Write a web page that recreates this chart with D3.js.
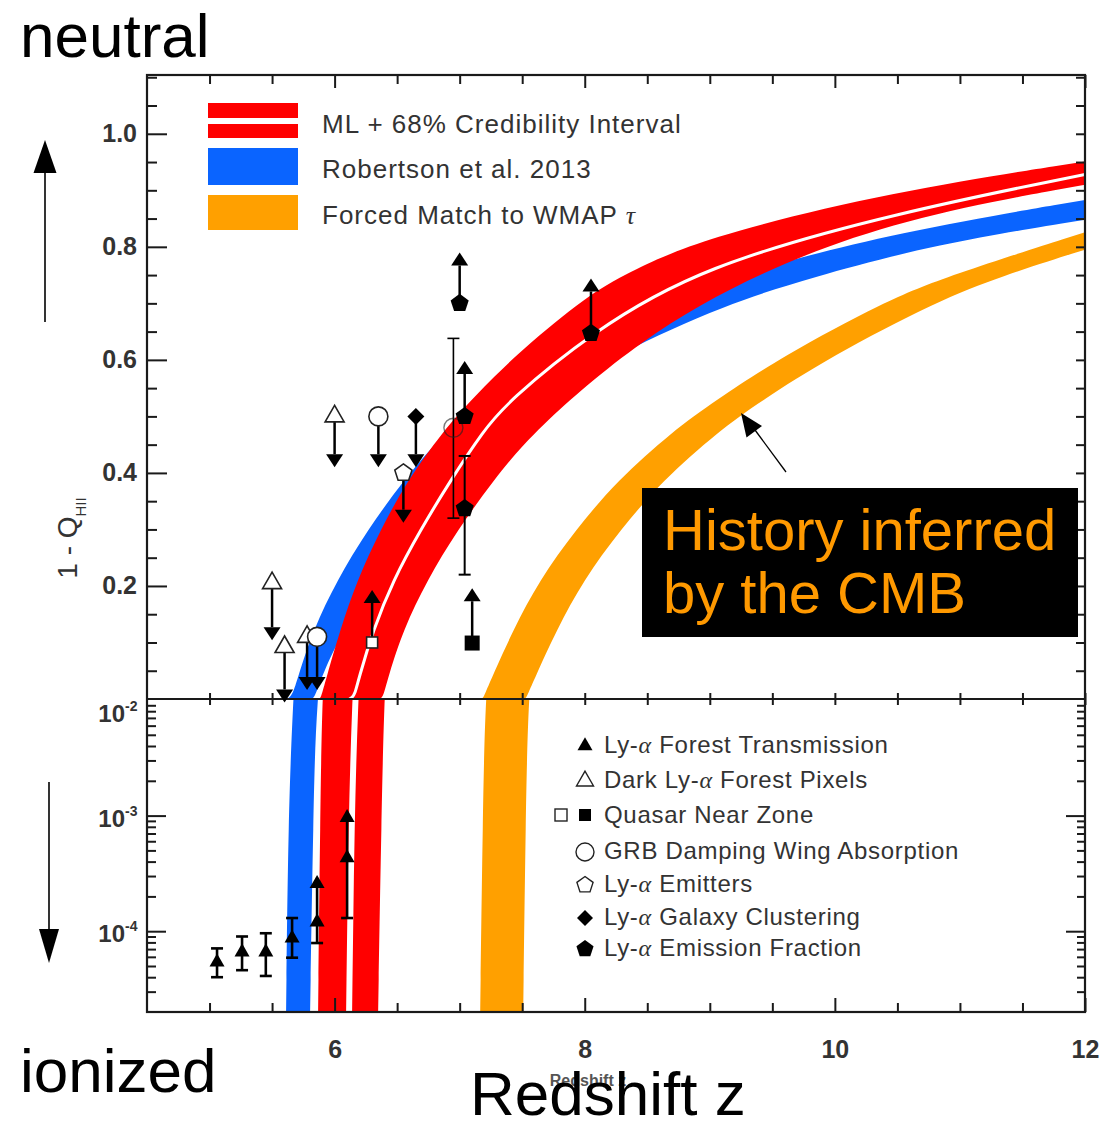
<!DOCTYPE html>
<html>
<head>
<meta charset="utf-8">
<script src="https://cdn.jsdelivr.net/npm/d3@7"></script>
<style>
  body { margin: 0; background: #fff; }
  svg { display: block; }
</style>
</head>
<body>
<svg id="chart" width="1101" height="1121"></svg>
<script>
// ---------- axis ticks ----------
const zMajorTicks = [6, 8, 10, 12];
const zMinorTicks = [5, 5.5, 6.5, 7, 7.5, 8.5, 9, 9.5, 10.5, 11, 11.5];
const zTickLabels = ["6", "8", "10", "12"];
const linMajorTicks = [0.2, 0.4, 0.6, 0.8, 1.0];
const linTickLabels = ["0.2", "0.4", "0.6", "0.8", "1.0"];
const linMinorTicks = [0.05, 0.1, 0.15, 0.25, 0.3, 0.35, 0.45, 0.5, 0.55, 0.65, 0.7, 0.75, 0.85, 0.9, 0.95, 1.05, 1.1];
const logMajorTicks = [1e-4, 1e-3, 1e-2];
const logTickExponents = ["-4", "-3", "-2"];
const logMinorTicks = [3e-5, 4e-5, 5e-5, 6e-5, 7e-5, 8e-5, 9e-5,
                       2e-4, 3e-4, 4e-4, 5e-4, 6e-4, 7e-4, 8e-4, 9e-4,
                       2e-3, 3e-3, 4e-3, 5e-3, 6e-3, 7e-3, 8e-3, 9e-3];

// ---------- model bands: [redshift, 1 - Q_HII] along each edge ----------
const mlUpper = [[5.868, 2e-5], [5.885, 1e-3], [5.90, 0.01], [5.93, 0.034], [6.044, 0.122],
  [6.18, 0.21], [6.364, 0.298], [6.58, 0.386], [6.868, 0.474], [7.084, 0.527], [7.428, 0.605],
  [7.964, 0.704], [8.284, 0.748], [8.924, 0.815], [10.46, 0.898], [12, 0.951]];
const mlLine = [[6.116, 2e-5], [6.135, 1e-3], [6.165, 0.01], [6.19, 0.034], [6.308, 0.122],
  [6.468, 0.21], [6.684, 0.298], [6.924, 0.386], [7.188, 0.474], [7.38, 0.525], [8.05, 0.648],
  [8.924, 0.765], [10.524, 0.862], [12, 0.928]];
const mlLower = [[6.348, 2e-5], [6.375, 1e-3], [6.396, 0.01], [6.43, 0.04], [6.548, 0.122],
  [6.74, 0.21], [6.98, 0.298], [7.268, 0.386], [7.588, 0.474], [8.444, 0.638], [9.40, 0.757],
  [10.524, 0.85], [12, 0.91]];

const robUpper = [[5.612, 2e-5], [5.63, 1e-3], [5.668, 0.01], [5.70, 0.034], [5.828, 0.122],
  [6.02, 0.21], [6.26, 0.298], [6.548, 0.386], [6.884, 0.474], [7.3, 0.55], [7.9, 0.635],
  [8.6, 0.705], [9.3, 0.757], [10.5, 0.826], [12, 0.883]];
const robLower = [[5.804, 2e-5], [5.83, 1e-3], [5.852, 0.01], [5.95, 0.07], [6.15, 0.15],
  [6.5, 0.27], [7.0, 0.40], [7.6, 0.52], [8.26, 0.612], [9.13, 0.698], [9.8, 0.745],
  [10.81, 0.805], [12, 0.848]];

const wmapUpper = [[7.164, 2e-5], [7.185, 1e-3], [7.204, 0.01], [7.25, 0.034], [7.427, 0.122],
  [7.638, 0.21], [7.923, 0.298], [8.258, 0.386], [8.704, 0.474], [9.039, 0.527], [9.572, 0.605],
  [10.404, 0.704], [10.899, 0.748], [12, 0.826]];
const wmapLower = [[7.508, 2e-5], [7.528, 1e-3], [7.548, 0.01], [7.595, 0.034], [7.775, 0.122],
  [7.99, 0.21], [8.28, 0.298], [8.62, 0.386], [9.07, 0.474], [9.41, 0.527], [9.96, 0.605],
  [10.82, 0.704], [11.33, 0.748], [12, 0.795]];

// ---------- observational constraints ----------
// Ly-alpha forest transmission (log panel)
const forestZ   = [5.06, 5.26, 5.45, 5.66, 5.86, 6.10];
const forestVal = [5.4e-5, 6.6e-5, 6.6e-5, 8.7e-5, 1.2e-4, 4.3e-4];
const forestLo  = [4.0e-5, 4.6e-5, 4.1e-5, 5.9e-5, 7.9e-5, 1.3e-4];
const forestHi  = [7.1e-5, 9.0e-5, 9.6e-5, 1.3e-4, 2.9e-4, 1.08e-3];
const forestHiIsLimit = [false, false, false, false, true, true];

// Dark Ly-alpha forest pixels (upper limits)
const darkZ = [5.5, 5.6, 5.78, 6.0];
const darkVal = [0.205, 0.092, 0.11, 0.50];
const darkEnd = [0.104, -0.006, 0.016, 0.41];

// Quasar near zones (lower limits): open and filled
const qsoOpenZ = [6.3], qsoOpenVal = [0.10], qsoOpenEnd = [0.193];
const qsoFillZ = [7.1], qsoFillVal = [0.099], qsoFillEnd = [0.196];

// GRB damping wing absorption
const grbLimZ = [5.86, 6.35], grbLimVal = [0.11, 0.50], grbLimEnd = [0.016, 0.41];
const grbErrZ = [6.95], grbErrVal = [0.48], grbErrLo = [0.32], grbErrHi = [0.638];

// Ly-alpha emitters
const laeZ = [6.55], laeVal = [0.40], laeEnd = [0.312];

// Ly-alpha galaxy clustering
const clusZ = [6.65], clusVal = [0.50], clusEnd = [0.41];

// Ly-alpha emission fraction
const fracLimZ = [7.04, 7.0, 8.05], fracLimVal = [0.50, 0.70, 0.647], fracLimEnd = [0.598, 0.79, 0.744];
const fracErrZ = [7.04], fracErrVal = [0.337], fracErrLo = [0.22], fracErrHi = [0.43];

// ---------- legends ----------
const bandLegend = ["ML + 68% Credibility Interval", "Robertson et al. 2013", "Forced Match to WMAP "];
const pointLegend = [
  ["Ly-", "\u03b1", " Forest Transmission"],
  ["Dark Ly-", "\u03b1", " Forest Pixels"],
  ["Quasar Near Zone", "", ""],
  ["GRB Damping Wing Absorption", "", ""],
  ["Ly-", "\u03b1", " Emitters"],
  ["Ly-", "\u03b1", " Galaxy Clustering"],
  ["Ly-", "\u03b1", " Emission Fraction"]
];

// ---------- layout ----------
const W = 1101, H = 1121;
const F = { left: 147, right: 1085, top: 75, mid: 699, bottom: 1012 };
const COL = { red: "#ff0000", blue: "#0a64ff", orange: "#ffa000", ink: "#1a1a1a", text: "#333" };
const SANS = "'Liberation Sans', Arial, Helvetica, sans-serif";
const SERIF = "'Liberation Serif', 'DejaVu Serif', serif";

const x = d3.scaleLinear().domain([4.5, 12]).range([F.left, F.right]);
const yLin = d3.scaleLinear().domain([0, 1.104]).range([F.mid, F.top]);
const yLog = d3.scaleLog().domain([2e-5, 1e-2]).range([F.bottom, 700]);

const svg = d3.select("#chart");
svg.append("rect").attr("width", W).attr("height", H).attr("fill", "#fff");

const defs = svg.append("defs");
defs.append("clipPath").attr("id", "clipTop").append("rect")
  .attr("x", F.left).attr("y", F.top).attr("width", F.right - F.left).attr("height", F.mid - F.top);
defs.append("clipPath").attr("id", "clipBot").append("rect")
  .attr("x", F.left).attr("y", F.mid).attr("width", F.right - F.left).attr("height", F.bottom - F.mid);

// ---------- bands ----------
function edgeLine(y) {
  return d3.line().x(d => x(d[0])).y(d => y(d[1])).curve(d3.curveBasis);
}
function bandPath(upper, lower, y) {
  const ln = edgeLine(y);
  const a = ln(upper);
  const b = ln(lower.slice().reverse());
  return a + "L" + b.slice(1) + "Z";
}

[{ y: yLin, clip: "clipTop", mlw: 3 }, { y: yLog, clip: "clipBot", mlw: 6 }].forEach(p => {
  const g = svg.append("g").attr("clip-path", `url(#${p.clip})`);
  g.append("path").attr("d", bandPath(wmapUpper, wmapLower, p.y)).attr("fill", COL.orange);
  g.append("path").attr("d", bandPath(robUpper, robLower, p.y)).attr("fill", COL.blue);
  g.append("path").attr("d", bandPath(mlUpper, mlLower, p.y)).attr("fill", COL.red);
  g.append("path").attr("d", edgeLine(p.y)(mlLine)).attr("fill", "none")
    .attr("stroke", "#fff").attr("stroke-width", p.mlw);
});

// ---------- frame and axes ----------
const axes = svg.append("g").attr("font-family", SANS);
function styleAxis(g) {
  g.select(".domain").remove();
  g.selectAll("line").attr("stroke", COL.ink).attr("stroke-width", 2);
  g.selectAll("text").attr("fill", COL.text).attr("font-size", 25).attr("font-weight", "bold");
}
// left, linear panel
axes.append("g").attr("transform", `translate(${F.left},0)`)
  .call(d3.axisLeft(yLin).tickValues(linMajorTicks).tickSizeInner(-20).tickSizeOuter(0)
    .tickPadding(10).tickFormat((d, i) => linTickLabels[i]))
  .call(styleAxis);
axes.append("g").attr("transform", `translate(${F.left},0)`)
  .call(d3.axisLeft(yLin).tickValues(linMinorTicks).tickSizeInner(-10).tickSizeOuter(0).tickFormat(""))
  .call(styleAxis);
// right, linear panel
axes.append("g").attr("transform", `translate(${F.right},0)`)
  .call(d3.axisRight(yLin).tickValues(linMajorTicks.concat(linMinorTicks)).tickSizeInner(-9).tickSizeOuter(0).tickFormat(""))
  .call(styleAxis);
// log panel, both sides
axes.append("g").attr("transform", `translate(${F.left},0)`)
  .call(d3.axisLeft(yLog).tickValues(logMajorTicks.slice(0, 2)).tickSizeInner(-19).tickSizeOuter(0).tickFormat(""))
  .call(styleAxis);
axes.append("g").attr("transform", `translate(${F.left},0)`)
  .call(d3.axisLeft(yLog).tickValues(logMinorTicks).tickSizeInner(-9).tickSizeOuter(0).tickFormat(""))
  .call(styleAxis);
axes.append("g").attr("transform", `translate(${F.right},0)`)
  .call(d3.axisRight(yLog).tickValues(logMajorTicks.slice(0, 2)).tickSizeInner(-19).tickSizeOuter(0).tickFormat(""))
  .call(styleAxis);
axes.append("g").attr("transform", `translate(${F.right},0)`)
  .call(d3.axisRight(yLog).tickValues(logMinorTicks).tickSizeInner(-8).tickSizeOuter(0).tickFormat(""))
  .call(styleAxis);
// log labels with superscripts
logMajorTicks.forEach((v, i) => {
  const yy = yLog(v) + (i === 2 ? 22 : 11);
  axes.append("text").attr("x", 125).attr("y", yy).attr("text-anchor", "end")
    .attr("fill", COL.text).attr("font-size", 24).attr("font-weight", "bold").text("10");
  axes.append("text").attr("x", 125).attr("y", yy - 11).attr("fill", COL.text)
    .attr("font-size", 14).attr("font-weight", "bold").text(logTickExponents[i]);
});
// bottom and top redshift ticks
axes.append("g").attr("transform", `translate(0,${F.bottom})`)
  .call(d3.axisBottom(x).tickValues(zMajorTicks).tickSizeInner(-14).tickSizeOuter(0)
    .tickPadding(28).tickFormat((d, i) => zTickLabels[i]))
  .call(styleAxis);
axes.append("g").attr("transform", `translate(0,${F.bottom})`)
  .call(d3.axisBottom(x).tickValues(zMinorTicks).tickSizeInner(-9).tickSizeOuter(0).tickFormat(""))
  .call(styleAxis);
axes.append("g").attr("transform", `translate(0,${F.top})`)
  .call(d3.axisTop(x).tickValues(zMajorTicks).tickSizeInner(-13).tickSizeOuter(0).tickFormat(""))
  .call(styleAxis);
axes.append("g").attr("transform", `translate(0,${F.top})`)
  .call(d3.axisTop(x).tickValues(zMinorTicks).tickSizeInner(-9).tickSizeOuter(0).tickFormat(""))
  .call(styleAxis);
// ticks straddling the panel divider
axes.append("g").attr("transform", `translate(0,${F.mid - 6})`)
  .call(d3.axisBottom(x).tickValues(zMajorTicks.concat(zMinorTicks)).tickSizeInner(12).tickSizeOuter(0).tickFormat(""))
  .call(styleAxis);

axes.append("line").attr("x1", F.left).attr("x2", F.right).attr("y1", F.mid).attr("y2", F.mid)
  .attr("stroke", COL.ink).attr("stroke-width", 2);
axes.append("rect").attr("x", F.left).attr("y", F.top).attr("width", F.right - F.left)
  .attr("height", F.bottom - F.top).attr("fill", "none").attr("stroke", COL.ink).attr("stroke-width", 2.2);

// y axis title
const yt = axes.append("text").attr("transform", "translate(77,538) rotate(-90)")
  .attr("text-anchor", "middle").attr("fill", COL.text).attr("font-size", 28);
yt.append("tspan").text("1 - Q");
yt.append("tspan").attr("font-size", 15).attr("dy", 9).text("HII");
// small axis title under the tick labels
axes.append("text").attr("x", 588).attr("y", 1086).attr("text-anchor", "middle")
  .attr("fill", "#555").attr("font-size", 16).attr("font-weight", "bold").text("Redshift z");

// ---------- marker helpers ----------
const marks = svg.append("g");
function tri(cx, cy, w, up = true) {
  const h = w * 0.87, s = up ? 1 : -1;
  return `M${cx},${cy - s * h * 2 / 3}L${cx - w / 2},${cy + s * h / 3}L${cx + w / 2},${cy + s * h / 3}Z`;
}
function pent(cx, cy, r) {
  const pts = d3.range(5).map(k => {
    const a = -Math.PI / 2 + k * 2 * Math.PI / 5;
    return [cx + r * Math.cos(a), cy + r * Math.sin(a)];
  });
  return "M" + pts.map(p => p.join(",")).join("L") + "Z";
}
function diamond(cx, cy, w, h) {
  return `M${cx},${cy - h / 2}L${cx + w / 2},${cy}L${cx},${cy + h / 2}L${cx - w / 2},${cy}Z`;
}
function shaft(px, y0, y1, w = 2.5) {
  marks.append("line").attr("x1", px).attr("x2", px).attr("y1", y0).attr("y2", y1)
    .attr("stroke", "#000").attr("stroke-width", w);
}
function arrowTo(px, y0, y1) {
  const up = y1 < y0, hl = 13;
  const base = up ? y1 + hl : y1 - hl;
  shaft(px, y0, base);
  marks.append("path").attr("d", `M${px},${y1}L${px - 8.5},${base}L${px + 8.5},${base}Z`).attr("fill", "#000");
}
function errBar(px, yLo, yHi, cap = 12, w = 1.6) {
  shaft(px, yLo, yHi, w);
  [yLo, yHi].forEach(yy => marks.append("line").attr("x1", px - cap / 2).attr("x2", px + cap / 2)
    .attr("y1", yy).attr("y2", yy).attr("stroke", "#000").attr("stroke-width", w));
}
const openStyle = s => s.attr("fill", "#fff").attr("stroke", "#222").attr("stroke-width", 1.6);

// Ly-alpha forest transmission
forestZ.forEach((z, i) => {
  const px = x(z);
  shaft(px, yLog(forestLo[i]), yLog(forestHi[i]), 2.6);
  marks.append("line").attr("x1", px - 6).attr("x2", px + 6).attr("y1", yLog(forestLo[i])).attr("y2", yLog(forestLo[i]))
    .attr("stroke", "#000").attr("stroke-width", 2.6);
  if (forestHiIsLimit[i]) {
    marks.append("path").attr("d", tri(px, yLog(forestHi[i]) + 6, 15)).attr("fill", "#000");
  } else {
    marks.append("line").attr("x1", px - 6).attr("x2", px + 6).attr("y1", yLog(forestHi[i])).attr("y2", yLog(forestHi[i]))
      .attr("stroke", "#000").attr("stroke-width", 2.6);
  }
  marks.append("path").attr("d", tri(px, yLog(forestVal[i]), 15)).attr("fill", "#000");
});

// upper-panel limits and measurements
darkZ.forEach((z, i) => {
  arrowTo(x(z), yLin(darkVal[i]), yLin(darkEnd[i]));
  marks.append("path").attr("d", tri(x(z), yLin(darkVal[i]), 19)).call(openStyle);
});
grbLimZ.forEach((z, i) => {
  arrowTo(x(z), yLin(grbLimVal[i]), yLin(grbLimEnd[i]));
  marks.append("circle").attr("cx", x(z)).attr("cy", yLin(grbLimVal[i])).attr("r", 9.5).call(openStyle);
});
grbErrZ.forEach((z, i) => {
  errBar(x(z), yLin(grbErrLo[i]), yLin(grbErrHi[i]));
  marks.append("circle").attr("cx", x(z)).attr("cy", yLin(grbErrVal[i])).attr("r", 9.5)
    .attr("fill", "none").attr("stroke", "#222").attr("stroke-width", 1.4).attr("opacity", 0.6);
});
qsoOpenZ.forEach((z, i) => {
  arrowTo(x(z), yLin(qsoOpenVal[i]), yLin(qsoOpenEnd[i]));
  marks.append("rect").attr("x", x(z) - 5.5).attr("y", yLin(qsoOpenVal[i]) - 5.5).attr("width", 11).attr("height", 11).call(openStyle);
});
qsoFillZ.forEach((z, i) => {
  arrowTo(x(z), yLin(qsoFillVal[i]), yLin(qsoFillEnd[i]));
  marks.append("rect").attr("x", x(z) - 7.5).attr("y", yLin(qsoFillVal[i]) - 7.5).attr("width", 15).attr("height", 15).attr("fill", "#000");
});
laeZ.forEach((z, i) => {
  arrowTo(x(z), yLin(laeVal[i]), yLin(laeEnd[i]));
  marks.append("path").attr("d", pent(x(z), yLin(laeVal[i]), 9)).call(openStyle);
});
clusZ.forEach((z, i) => {
  arrowTo(x(z), yLin(clusVal[i]), yLin(clusEnd[i]));
  marks.append("path").attr("d", diamond(x(z), yLin(clusVal[i]), 17, 17)).attr("fill", "#000");
});
fracLimZ.forEach((z, i) => {
  arrowTo(x(z), yLin(fracLimVal[i]), yLin(fracLimEnd[i]));
  marks.append("path").attr("d", pent(x(z), yLin(fracLimVal[i]), 9.5)).attr("fill", "#000");
});
fracErrZ.forEach((z, i) => {
  errBar(x(z), yLin(fracErrLo[i]), yLin(fracErrHi[i]), 12, 2);
  marks.append("path").attr("d", pent(x(z), yLin(fracErrVal[i]), 9.5)).attr("fill", "#000");
});

// ---------- band legend ----------
const lg = svg.append("g").attr("font-family", SANS);
lg.append("rect").attr("x", 208).attr("y", 103).attr("width", 90).attr("height", 15).attr("fill", COL.red);
lg.append("rect").attr("x", 208).attr("y", 124).attr("width", 90).attr("height", 14).attr("fill", COL.red);
lg.append("rect").attr("x", 208).attr("y", 148).attr("width", 90).attr("height", 37).attr("fill", COL.blue);
lg.append("rect").attr("x", 208).attr("y", 195).attr("width", 90).attr("height", 35).attr("fill", COL.orange);
[133, 178, 224].forEach((yy, i) => {
  const t = lg.append("text").attr("x", 322).attr("y", yy).attr("fill", COL.text)
    .attr("font-size", 26).attr("letter-spacing", 1).text(bandLegend[i]);
  if (i === 2) t.append("tspan").attr("font-family", SERIF).attr("font-style", "italic").text("\u03c4");
});

// ---------- point legend ----------
const pl = svg.append("g").attr("font-family", SANS);
const legY = [745, 780, 815, 851, 884, 917, 948];
const mx = 585;
pl.append("path").attr("d", tri(mx, legY[0] + 1, 15)).attr("fill", "#000");
pl.append("path").attr("d", tri(mx, legY[1] + 1, 17)).attr("fill", "#fff").attr("stroke", "#222").attr("stroke-width", 1.4);
pl.append("rect").attr("x", 561 - 6).attr("y", legY[2] - 6).attr("width", 12).attr("height", 12)
  .attr("fill", "#fff").attr("stroke", "#222").attr("stroke-width", 1.4);
pl.append("rect").attr("x", mx - 6).attr("y", legY[2] - 6).attr("width", 12).attr("height", 12).attr("fill", "#000");
pl.append("circle").attr("cx", mx).attr("cy", legY[3] + 1).attr("r", 9).attr("fill", "#fff").attr("stroke", "#222").attr("stroke-width", 1.4);
pl.append("path").attr("d", pent(mx, legY[4] + 1, 8.5)).attr("fill", "#fff").attr("stroke", "#222").attr("stroke-width", 1.4);
pl.append("path").attr("d", diamond(mx, legY[5] + 1, 16, 16)).attr("fill", "#000");
pl.append("path").attr("d", pent(mx, legY[6] + 1, 9)).attr("fill", "#000");
pointLegend.forEach((parts, i) => {
  const t = pl.append("text").attr("x", 604).attr("y", legY[i] + 8).attr("fill", COL.text)
    .attr("font-size", 24).attr("letter-spacing", 0.7);
  t.append("tspan").text(parts[0]);
  if (parts[1]) t.append("tspan").attr("font-family", SERIF).attr("font-style", "italic").text(parts[1]);
  if (parts[2]) t.append("tspan").text(parts[2]);
});

// ---------- annotations ----------
const ann = svg.append("g").attr("font-family", SANS);
ann.append("text").attr("x", 20).attr("y", 57).attr("font-size", 62).attr("fill", "#000").text("neutral");
ann.append("text").attr("x", 20).attr("y", 1092).attr("font-size", 62).attr("fill", "#000").text("ionized");
ann.append("text").attr("x", 470).attr("y", 1115).attr("font-size", 62).attr("fill", "#000").text("Redshift z");

// direction arrows at the left
ann.append("line").attr("x1", 45).attr("x2", 45).attr("y1", 322).attr("y2", 168).attr("stroke", "#000").attr("stroke-width", 1.6);
ann.append("path").attr("d", "M45,140L33.5,173L56.5,173Z").attr("fill", "#000");
ann.append("line").attr("x1", 49).attr("x2", 49).attr("y1", 782).attr("y2", 935).attr("stroke", "#000").attr("stroke-width", 1.6);
ann.append("path").attr("d", "M49,963L39,929L59,929Z").attr("fill", "#000");

// CMB call-out box with pointer to the orange band
ann.append("line").attr("x1", 786).attr("y1", 472).attr("x2", 755).attr("y2", 430).attr("stroke", "#000").attr("stroke-width", 1.3);
ann.append("path").attr("d", "M741,413L746.5,437.5L762,426Z").attr("fill", "#000");
ann.append("rect").attr("x", 642).attr("y", 488).attr("width", 436).attr("height", 149).attr("fill", "#000");
ann.append("text").attr("x", 663).attr("y", 550).attr("font-size", 58).attr("fill", "#ff9900").text("History inferred");
ann.append("text").attr("x", 663).attr("y", 613).attr("font-size", 58).attr("fill", "#ff9900").text("by the CMB");
</script>
</body>
</html>
